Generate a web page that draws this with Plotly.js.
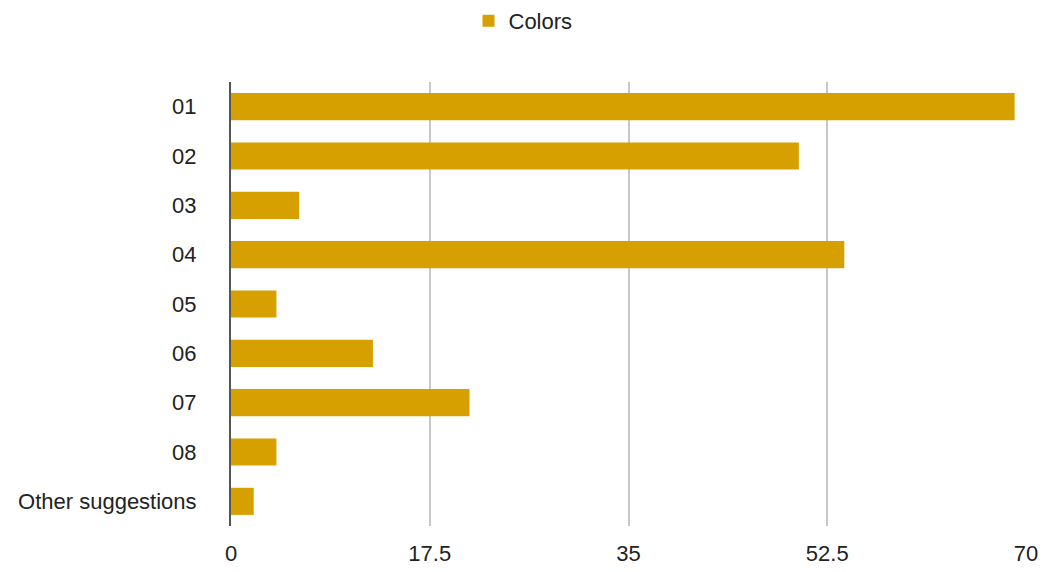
<!DOCTYPE html>
<html>
<head>
<meta charset="utf-8">
<script src="https://cdn.plot.ly/plotly-3.0.1.min.js"></script>
<style>html,body{margin:0;padding:0;background:#fff;}#chart{width:1046px;height:572px;}</style>
</head>
<body>
<div id="chart"></div>
<script>
const categories = ["01", "02", "03", "04", "05", "06", "07", "08", "Other suggestions"];
const colorsValues = [69, 50, 6, 54, 4, 12.5, 21, 4, 2];
const seriesName = "Colors";
const xTicks = [0, 17.5, 35, 52.5, 70];
const xTickLabels = ["0", "17.5", "35", "52.5", "70"];

const font = {family: "Liberation Sans, Arial, Helvetica, sans-serif", size: 22, color: "#222"};

Plotly.newPlot("chart", [{
  type: "bar",
  orientation: "h",
  x: colorsValues,
  y: categories,
  name: seriesName,
  marker: {color: "#d5a000"},
  showlegend: true
}], {
  width: 1046, height: 572,
  margin: {l: 231, r: 20, t: 82, b: 46},
  paper_bgcolor: "#fff", plot_bgcolor: "#fff",
  font: font,
  bargap: 0.45,
  showlegend: true,
  legend: {orientation: "h", xref: "container", yref: "container", x: 0.5, xanchor: "center", y: 1, yanchor: "top",
           font: font, itemwidth: 30},
  xaxis: {range: [0, 70], tickvals: xTicks, ticktext: xTickLabels, showgrid: true, gridcolor: "#c8c8c8", gridwidth: 2,
          zeroline: false, showline: false, ticks: "", ticklabelstandoff: 12, fixedrange: true},
  yaxis: {type: "category", autorange: "reversed", showline: true, linecolor: "#555", linewidth: 2, showgrid: false, ticks: "",
          ticklabelstandoff: 28, fixedrange: true}
}, {displayModeBar: false, staticPlot: true});
</script>
</body>
</html>
